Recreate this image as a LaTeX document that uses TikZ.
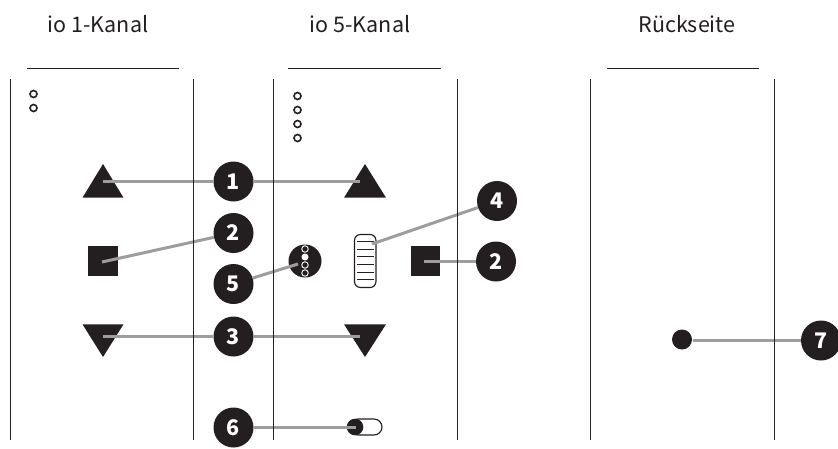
\documentclass[tikz,border=0pt]{standalone}
\usepackage{fontspec}
\setmainfont{Noto Sans CJK SC}
\definecolor{markblack}{HTML}{231F20}
\definecolor{leadgray}{HTML}{9D9D9C}
\tikzset{
	rail/.style={line width=1.15pt,draw=markblack},
	lead/.style={line width=3pt,draw=leadgray},
	badge/.style={circle,fill=markblack,text=white,minimum size=40pt,inner sep=0pt,font=\fontsize{21.5}{22}\selectfont\bfseries},
	head/.style={text=markblack,font=\fontsize{21.5}{24}\selectfont},
	led/.style={circle,draw=markblack,line width=1.6pt,minimum size=7pt,inner sep=0pt},
	solid mark/.style={fill=markblack}
}
\begin{document}
\begin{tikzpicture}[x=1pt,y=-1pt]
	\useasboundingbox (0,0) rectangle (838,448);
	% headings
	\node[head] (H1) at (98,24) {io 1-Kanal};
	\node[head] (H2) at (360,24) {io 5-Kanal};
	\node[head] (H3) at (687,24) {Rückseite};
	\draw[rail] (27,68.5) -- (179,68.5);
	\draw[rail] (288,68.5) -- (441,68.5);
	\draw[rail] (607,68.5) -- (759,68.5);
	% leds
	\foreach \y in {94,108} \node[led] at (33.5,\y) {};
	\foreach \y in {96,110,124,138} \node[led] at (297.5,\y) {};
	% keys
	\fill[solid mark] (82.5,197.7) -- (103,164) -- (123.5,197.7) -- cycle;
	\fill[solid mark] (344,197.7) -- (365,164) -- (386,197.7) -- cycle;
	\fill[solid mark] (88.3,246.3) rectangle (118,275.7);
	\fill[solid mark] (410.5,246.3) rectangle (440,275.7);
	\fill[solid mark] (82.5,324.3) -- (103,357) -- (123.5,324.3) -- cycle;
	\fill[solid mark] (344,324.3) -- (365,357) -- (386,324.3) -- cycle;
	% selector
	\node[circle,solid mark,minimum size=33pt,inner sep=0pt] (S) at (305,261) {};
	\foreach \y in {249,265,273} \node[circle,draw=white,fill=markblack,line width=.9pt,minimum size=6.5pt,inner sep=0pt] at (305,\y) {};
	\node[circle,fill=white,minimum size=7pt,inner sep=0pt] at (305,257) {};
	% wheel
	\draw[rail,rounded corners=6pt] (354.5,234.5) rectangle (376,287.5);
	\foreach \y in {241,249,256.7,264.3,272,279.7} \draw[line width=1pt,draw=markblack] (357,\y) -- (373.5,\y);
	% slide switch
	\draw[rail,rounded corners=8pt] (350,419) rectangle (382,435);
	\fill[solid mark] (355,427) circle (8.3);
	\fill[solid mark] (682,339.5) circle (10);
	% badges
	\node[badge] (N1) at (233.5,181.5) {1};
	\node[badge] (N2) at (233.5,233) {2};
	\node[badge] (N5) at (233.5,284) {5};
	\node[badge] (N3) at (233.5,336.5) {3};
	\node[badge] (N6) at (233.5,427.5) {6};
	\node[badge] (N4) at (497,201) {4};
	\node[badge] (M2) at (496,261.5) {2};
	\node[badge] (N7) at (821,340.5) {7};
	% targets
	\coordinate (A) at (103,181.5);
	\coordinate (B) at (360,181.5);
	\coordinate (C) at (102,262);
	\coordinate (D) at (424,261.5);
	\coordinate (E) at (103,336.5);
	\coordinate (F) at (360,336.5);
	\coordinate (G) at (298,264);
	\coordinate (K) at (372,244);
	\coordinate (L) at (356,427.5);
	\coordinate (P) at (693,340.5);
	\draw[lead] (N1) -- (A);
	\draw[lead] (N1) -- (B);
	\draw[lead] (N2) -- (C);
	\draw[lead] (M2) -- (D);
	\draw[lead] (N3) -- (E);
	\draw[lead] (N3) -- (F);
	\draw[lead] (N5) -- (G);
	\draw[lead] (N4) -- (K);
	\draw[lead] (N6) -- (L);
	\draw[lead] (N7) -- (P);
	% case edges
	\foreach \x in {10.5,193.5,273.5,457.5,590.5,774.5} \draw[rail] (\x,79) -- (\x,440);
\end{tikzpicture}
\end{document}
